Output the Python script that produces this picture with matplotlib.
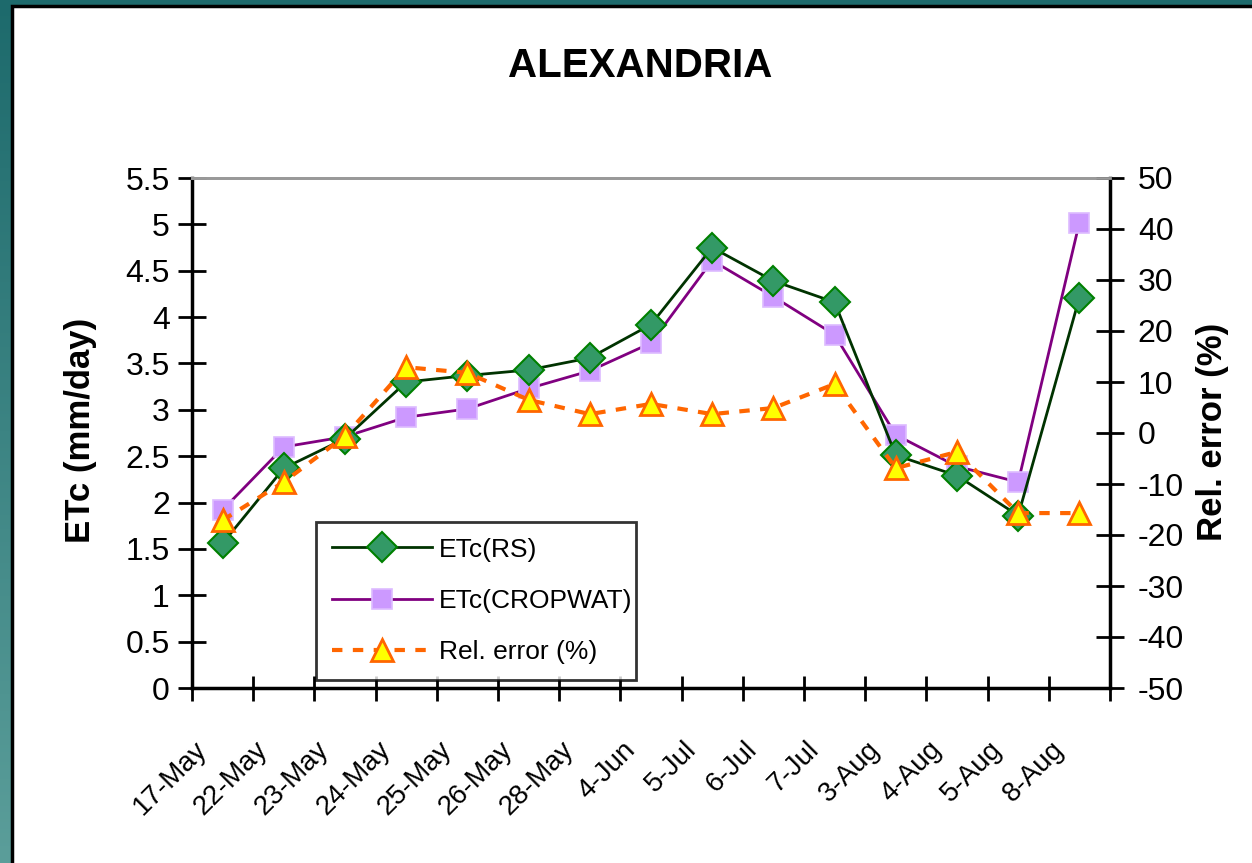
"""ETc comparison chart for Alexandria: remote sensing vs CROPWAT."""

import matplotlib
matplotlib.use("Agg")
import matplotlib.pyplot as plt
import numpy as np
from matplotlib.colors import LinearSegmentedColormap
from matplotlib.patches import Rectangle
from matplotlib.transforms import ScaledTranslation

dates = ["17-May", "22-May", "23-May", "24-May", "25-May", "26-May", "28-May",
         "4-Jun", "5-Jul", "6-Jul", "7-Jul", "3-Aug", "4-Aug", "5-Aug", "8-Aug"]
etc_rs = [1.56, 2.37, 2.69, 3.30, 3.37, 3.43, 3.56, 3.92, 4.75, 4.39, 4.16,
          2.51, 2.29, 1.86, 4.21]
etc_cropwat = [1.92, 2.60, 2.71, 2.92, 3.01, 3.23, 3.42, 3.72, 4.61, 4.22, 3.81,
               2.73, 2.39, 2.22, 5.02]
rel_error = [-17.1, -9.6, -0.6, 12.9, 11.8, 6.5, 3.7, 5.7, 3.7, 4.9, 9.6,
             -6.9, -3.7, -15.7, -15.7]

plt.rcParams["font.family"] = ["Liberation Sans", "DejaVu Sans"]
plt.rcParams["axes.unicode_minus"] = False

fig = plt.figure(figsize=(12.52, 8.63), dpi=100)

# teal slide background with a white panel on top
bg = fig.add_axes([0, 0, 1, 1], zorder=-10)
teal = LinearSegmentedColormap.from_list("teal", ["#1d6a6c", "#5b9e9a"])
bg.imshow(np.linspace(0, 1, 256).reshape(-1, 1), cmap=teal, aspect="auto",
          extent=[0, 1, 0, 1], origin="upper")
bg.add_patch(Rectangle((12 / 1252, -0.1), 1.1, 1.1 - 6 / 863,
                       facecolor="white", edgecolor="black", linewidth=2.5))
bg.set_xlim(0, 1)
bg.set_ylim(0, 1)
bg.axis("off")

ax = fig.add_axes([192 / 1252, 1 - 688 / 863, 918 / 1252, 510 / 863])
ax.set_facecolor("none")
ax2 = ax.twinx()

x = np.arange(len(dates))
ln1, = ax.plot(x, etc_rs, color="#003300", linewidth=2, marker="D",
               markersize=15, markerfacecolor="#339966",
               markeredgecolor="#008000", markeredgewidth=1.5,
               label="ETc(RS)", zorder=3)
ln2, = ax.plot(x, etc_cropwat, color="#800080", linewidth=2, marker="s",
               markersize=14, markerfacecolor="#CC99FF",
               markeredgecolor="#DDBBFF", markeredgewidth=1.2,
               label="ETc(CROPWAT)", zorder=2)
ln3, = ax2.plot(x, rel_error, color="#FF6600", linewidth=3,
                linestyle=(0, (2.5, 2.5)), marker="^", markersize=16,
                markerfacecolor="#FFFF00", markeredgecolor="#FF6600",
                markeredgewidth=2, label="Rel. error (%)")

ax.set_xlim(-0.5, len(dates) - 0.5)
ax.set_ylim(0, 5.5)
ax.set_yticks(np.arange(0, 5.51, 0.5))
ax.set_yticklabels(["0", "0.5", "1", "1.5", "2", "2.5", "3", "3.5", "4",
                    "4.5", "5", "5.5"])
ax2.set_ylim(-50, 50)
ax2.set_yticks(np.arange(-50, 51, 10))

# category boundaries carry the ticks, labels sit near the left boundary
ax.set_xticks(np.arange(-0.5, len(dates), 1.0))
ax.set_xticklabels([])
ax.set_xticks(x, minor=True)
ax.set_xticklabels(dates, minor=True, rotation=45, ha="right",
                   va="top", rotation_mode="anchor", fontsize=20)
ax.tick_params(axis="x", which="minor", length=0, pad=35)
shift = ScaledTranslation(-29 / 100, 0, fig.dpi_scale_trans)
for lab in ax.get_xticklabels(minor=True):
    lab.set_transform(lab.get_transform() + shift)

ax.tick_params(axis="x", which="major", direction="inout", length=18,
               width=2)
ax.tick_params(axis="y", direction="inout", length=20, width=2,
               labelsize=23, pad=6)
ax2.tick_params(axis="y", direction="inout", length=20, width=2,
                labelsize=23, pad=10)

for a in (ax, ax2):
    a.spines["top"].set_color("#999999")
    a.spines["top"].set_linewidth(2)
ax.spines["left"].set_linewidth(2.5)
ax.spines["bottom"].set_linewidth(2.5)
ax.spines["right"].set_visible(False)
ax2.spines["left"].set_visible(False)
ax2.spines["bottom"].set_visible(False)
ax2.spines["right"].set_linewidth(2.5)

ax.set_ylabel("ETc (mm/day)", fontsize=25, fontweight="bold")
ax.yaxis.set_label_coords(-0.1035, 0.506)
ax2.set_ylabel("Rel. error (%)", fontsize=25, fontweight="bold")
ax2.yaxis.set_label_coords(1.0937, 0.502)
fig.text(640 / 1252, 1 - 66 / 863, "ALEXANDRIA", ha="center", va="center",
         fontsize=29, fontweight="bold")

leg = ax2.legend(handles=[ln1, ln2, ln3], loc="lower left",
                 bbox_to_anchor=(0.135, 0.016, 0.349, 0.31), mode="expand",
                 borderaxespad=0, fontsize=19, frameon=True, fancybox=False,
                 handlelength=3.8, labelspacing=1.03, borderpad=0.6,
                 handletextpad=0.25)
leg.get_frame().set_edgecolor("black")
leg.get_frame().set_linewidth(2)

fig.savefig("out.png", dpi=100)
plt.close(fig)
